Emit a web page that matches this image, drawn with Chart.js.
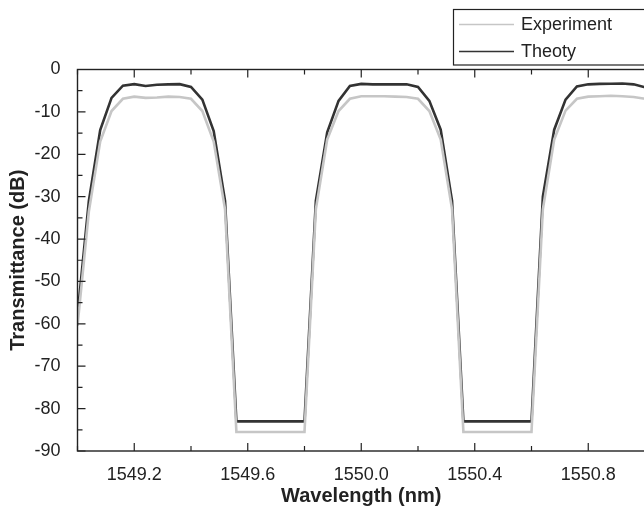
<!DOCTYPE html>
<html>
<head>
<meta charset="utf-8">
<script src="https://cdn.jsdelivr.net/npm/chart.js@4.4.1/dist/chart.umd.min.js"></script>
<style>
  html, body { margin: 0; padding: 0; background: #fff; overflow: hidden; }
  #wrap { width: 660px; height: 508px; }
</style>
</head>
<body>
<div id="wrap"><canvas id="chart" width="660" height="508"></canvas></div>
<script>
// wavelength samples (nm)
const wavelengths = [
  1549.00, 1549.04, 1549.08, 1549.12, 1549.16, 1549.20, 1549.24, 1549.28, 1549.32, 1549.36,
  1549.40, 1549.44, 1549.48, 1549.52, 1549.56, 1549.60, 1549.64, 1549.68, 1549.72, 1549.76,
  1549.80, 1549.84, 1549.88, 1549.92, 1549.96, 1550.00, 1550.04, 1550.08, 1550.12, 1550.16,
  1550.20, 1550.24, 1550.28, 1550.32, 1550.36, 1550.40, 1550.44, 1550.48, 1550.52, 1550.56,
  1550.60, 1550.64, 1550.68, 1550.72, 1550.76, 1550.80, 1550.84, 1550.88, 1550.92, 1550.96,
  1551.00
];

// transmittance (dB)
const experiment = [
  -60.5, -33.5, -17, -9.8, -6.9, -6.4, -6.7, -6.6, -6.4, -6.5,
  -6.9, -9.8, -17, -33, -85.5, -85.5, -85.5, -85.5, -85.5, -85.5,
  -85.5, -33, -16.5, -9.8, -6.9, -6.3, -6.3, -6.3, -6.4, -6.5,
  -6.9, -9.8, -16.5, -33, -85.5, -85.5, -85.5, -85.5, -85.5, -85.5,
  -85.5, -33, -16.5, -9.7, -6.9, -6.4, -6.3, -6.2, -6.3, -6.5,
  -6.9
];

const theory = [
  -58, -31, -14.3, -6.7, -3.8, -3.45, -3.9, -3.6, -3.5, -3.45,
  -4.1, -7.1, -14.5, -31, -83, -83, -83, -83, -83, -83,
  -83, -31, -14.8, -7.4, -3.9, -3.4, -3.5, -3.5, -3.5, -3.5,
  -4.1, -7.4, -14.2, -31, -83, -83, -83, -83, -83, -83,
  -83, -30, -14.2, -7.1, -4.0, -3.5, -3.4, -3.35, -3.3, -3.5,
  -4.2
];

const xTicks = [1549.0, 1549.2, 1549.4, 1549.6, 1549.8, 1550.0, 1550.2, 1550.4, 1550.6, 1550.8, 1551.0];
const xLabels = [1549.2, 1549.6, 1550.0, 1550.4, 1550.8];
const yTicks = [0, -5, -10, -15, -20, -25, -30, -35, -40, -45, -50, -55, -60, -65, -70, -75, -80, -85, -90];
const yLabels = [0, -10, -20, -30, -40, -50, -60, -70, -80, -90];

const seriesNames = ["Experiment", "Theoty"];
const seriesColors = ["#c6c6c6", "#333333"];

const FONT = "'Liberation Sans', Arial, sans-serif";
const INK = "#222";

function isLabel(list, v) {
  return list.some((l) => Math.abs(l - v) < 1e-6);
}

const frameAndTicks = {
  id: "frameAndTicks",
  afterDatasetsDraw(chart) {
    const { ctx, chartArea: a } = chart;
    const xs = chart.scales.x;
    const ys = chart.scales.y;
    ctx.save();
    ctx.strokeStyle = INK;
    ctx.lineWidth = 1.4;
    ctx.strokeRect(a.left, a.top, a.right - a.left, a.bottom - a.top);
    ctx.lineWidth = 1.2;
    ctx.beginPath();
    xTicks.forEach((v) => {
      const px = xs.getPixelForValue(v);
      const len = isLabel(xLabels, v) ? 8 : 5;
      ctx.moveTo(px, a.bottom);
      ctx.lineTo(px, a.bottom - len);
      ctx.moveTo(px, a.top);
      ctx.lineTo(px, a.top + len);
    });
    yTicks.forEach((v) => {
      const py = ys.getPixelForValue(v);
      const len = isLabel(yLabels, v) ? 8 : 5;
      ctx.moveTo(a.left, py);
      ctx.lineTo(a.left + len, py);
    });
    ctx.stroke();
    ctx.restore();
  },
};

const boxLegend = {
  id: "boxLegend",
  afterDraw(chart) {
    const { ctx } = chart;
    ctx.save();
    ctx.fillStyle = "#fff";
    ctx.fillRect(453.5, 9.5, 260, 55.5);
    ctx.strokeStyle = INK;
    ctx.lineWidth = 1.2;
    ctx.strokeRect(453.5, 9.5, 260, 55.5);
    const rows = [24.5, 51.5];
    seriesNames.forEach((name, i) => {
      ctx.strokeStyle = seriesColors[i];
      ctx.lineWidth = 1.3;
      ctx.beginPath();
      ctx.moveTo(459, rows[i]);
      ctx.lineTo(514, rows[i]);
      ctx.stroke();
      ctx.fillStyle = INK;
      ctx.font = "18px " + FONT;
      ctx.textAlign = "left";
      ctx.textBaseline = "middle";
      ctx.fillText(name, 521, rows[i] + 1);
    });
    ctx.restore();
  },
};

new Chart(document.getElementById("chart"), {
  type: "line",
  data: {
    datasets: [
      {
        label: seriesNames[0],
        data: wavelengths.map((w, i) => ({ x: w, y: experiment[i] })),
        borderColor: seriesColors[0],
        borderWidth: 2.6,
        pointRadius: 0,
        tension: 0,
      },
      {
        label: seriesNames[1],
        data: wavelengths.map((w, i) => ({ x: w, y: theory[i] })),
        borderColor: seriesColors[1],
        borderWidth: 2.6,
        pointRadius: 0,
        tension: 0,
      },
    ],
  },
  options: {
    responsive: false,
    animation: false,
    layout: { padding: { top: 69.5, right: 15, left: 0, bottom: 0 } },
    plugins: {
      legend: { display: false },
      tooltip: { enabled: false },
    },
    scales: {
      x: {
        type: "linear",
        min: 1549.0,
        max: 1551.0,
        grid: { display: false },
        border: { display: false },
        afterFit: (axis) => { axis.height = 57; },
        afterBuildTicks: (axis) => { axis.ticks = xTicks.map((v) => ({ value: v })); },
        ticks: {
          autoSkip: false,
          maxRotation: 0,
          padding: 5,
          color: INK,
          font: { family: FONT, size: 18 },
          callback: (v) => (isLabel(xLabels, v) ? Number(v).toFixed(1) : ""),
        },
        title: {
          display: true,
          text: "Wavelength (nm)",
          color: INK,
          font: { family: FONT, size: 20, weight: "bold" },
          padding: { top: 0, bottom: 0 },
        },
      },
      y: {
        min: -90,
        max: 0,
        grid: { display: false },
        border: { display: false },
        afterFit: (axis) => { axis.width = 77.5; },
        afterBuildTicks: (axis) => { axis.ticks = yTicks.map((v) => ({ value: v })); },
        ticks: {
          autoSkip: false,
          padding: 9,
          color: INK,
          font: { family: FONT, size: 18 },
          callback: (v) => (isLabel(yLabels, v) ? String(v) : ""),
        },
        title: {
          display: true,
          text: "Transmittance (dB)",
          color: INK,
          font: { family: FONT, size: 20, weight: "bold" },
          padding: { top: 6, bottom: 0 },
        },
      },
    },
  },
  plugins: [frameAndTicks, boxLegend],
});
</script>
</body>
</html>
